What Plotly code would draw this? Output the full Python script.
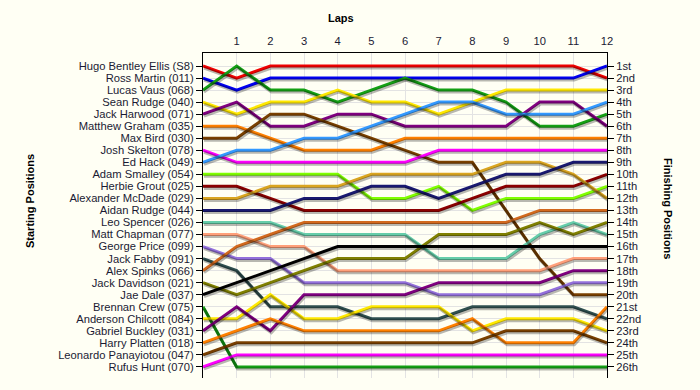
import plotly.graph_objects as go

laps = list(range(13))
lap_ticks = list(range(1, 13))

drivers = [
    "Hugo Bentley Ellis (S8)", "Ross Martin (011)", "Lucas Vaus (068)", "Sean Rudge (040)",
    "Jack Harwood (071)", "Matthew Graham (035)", "Max Bird (030)", "Josh Skelton (078)",
    "Ed Hack (049)", "Adam Smalley (054)", "Herbie Grout (025)", "Alexander McDade (029)",
    "Aidan Rudge (044)", "Leo Spencer (026)", "Matt Chapman (077)", "George Price (099)",
    "Jack Fabby (091)", "Alex Spinks (066)", "Jack Davidson (021)", "Jae Dale (037)",
    "Brennan Crew (075)", "Anderson Chilcott (084)", "Gabriel Buckley (031)",
    "Harry Platten (018)", "Leonardo Panayiotou (047)", "Rufus Hunt (070)",
]

finish_labels = [
    "1st", "2nd", "3rd", "4th", "5th", "6th", "7th", "8th", "9th", "10th", "11th", "12th",
    "13th", "14th", "15th", "16th", "17th", "18th", "19th", "20th", "21st", "22nd", "23rd",
    "24th", "25th", "26th",
]

# positions per lap (lap 0 .. lap 12)
hugo      = [1, 2, 1, 1, 1, 1, 1, 1, 1, 1, 1, 1, 2]
ross      = [2, 3, 2, 2, 2, 2, 2, 2, 2, 2, 2, 2, 1]
lucas     = [3, 1, 3, 3, 4, 3, 2, 3, 3, 4, 6, 6, 5]
sean      = [4, 5, 4, 4, 3, 4, 4, 5, 4, 3, 3, 3, 3]
harwood   = [5, 4, 6, 6, 5, 5, 6, 6, 6, 6, 4, 4, 6]
graham    = [6, 6, 7, 8, 8, 8, 7, 7, 7, 7, 7, 7, 7]
bird      = [7, 7, 5, 5, 6, 7, 8, 9, 9, 13, 17, 20, 20]
skelton   = [8, 9, 9, 9, 9, 9, 9, 8, 8, 8, 8, 8, 8]
hack      = [9, 8, 8, 7, 7, 6, 5, 4, 4, 5, 5, 5, 4]
smalley   = [10, 10, 10, 10, 10, 12, 12, 11, 13, 12, 12, 12, 11]
grout     = [11, 11, 12, 13, 13, 13, 13, 13, 12, 11, 11, 11, 10]
mcdade    = [12, 12, 11, 11, 11, 10, 10, 10, 10, 9, 9, 10, 12]
arudge    = [13, 13, 13, 12, 12, 11, 11, 12, 11, 10, 10, 9, 9]
spencer   = [14, 14, 14, 15, 15, 15, 15, 17, 17, 17, 15, 14, 15]
chapman   = [15, 15, 16, 16, 18, 18, 18, 18, 18, 18, 18, 17, 17]
price     = [16, 17, 17, 19, 19, 19, 19, 20, 20, 20, 20, 19, 19]
fabby     = [17, 18, 21, 21, 21, 22, 22, 22, 21, 21, 21, 21, 22]
spinks    = [18, 16, 15, 14, 14, 14, 14, 14, 14, 14, 13, 13, 13]
davidson  = [19, 20, 19, 18, 17, 17, 17, 15, 15, 15, 14, 15, 14]
dale      = [20, 19, 18, 17, 16, 16, 16, 16, 16, 16, 16, 16, 16]
crew      = [21, 26, 26, 26, 26, 26, 26, 26, 26, 26, 26, 26, 26]
chilcott  = [22, 22, 20, 22, 22, 21, 21, 21, 23, 22, 22, 22, 23]
buckley   = [23, 21, 23, 20, 20, 20, 20, 19, 19, 19, 19, 18, 18]
platten   = [24, 23, 22, 23, 23, 23, 23, 23, 22, 24, 24, 24, 21]
panayiotou = [25, 24, 24, 24, 24, 24, 24, 24, 24, 23, 23, 23, 24]
hunt      = [26, 25, 25, 25, 25, 25, 25, 25, 25, 25, 25, 25, 25]

series = [hugo, ross, lucas, sean, harwood, graham, bird, skelton, hack, smalley, grout,
          mcdade, arudge, spencer, chapman, price, fabby, spinks, davidson, dale, crew,
          chilcott, buckley, platten, panayiotou, hunt]

colors = [
    "#F00000", "#0000F0", "#14A014", "#FFE800", "#800080", "#FF8000", "#7A4000", "#FF00FF",
    "#3399FF", "#80FF00", "#8B0000", "#DAA520", "#191970", "#66CDAA", "#FFA07A", "#9370DB",
    "#2F4F4F", "#D2691E", "#808000", "#000000", "#14A014", "#FFE800", "#800080", "#FF8000",
    "#7A4000", "#FF00FF",
]

FONT = "Liberation Sans, Arial, sans-serif"
TXT = "#1a1a33"
BG = "#FFFFF4"

L, R, T, B = 203, 607, 53, 378
fig = go.Figure()

# drop shadows (drawn on slightly shifted overlay axes)
for ys in series:
    fig.add_trace(go.Scatter(x=laps, y=ys, mode="lines", xaxis="x2", yaxis="y3",
                             line=dict(color="rgba(0,0,0,0.28)", width=3),
                             hoverinfo="skip", showlegend=False))

for name, ys, c in zip(drivers, series, colors):
    fig.add_trace(go.Scatter(x=laps, y=ys, mode="lines", name=name,
                             line=dict(color=c, width=3), showlegend=False))

# invisible trace to anchor right axis
fig.add_trace(go.Scatter(x=[0], y=[1], mode="markers", yaxis="y2",
                         marker=dict(opacity=0), hoverinfo="skip", showlegend=False))

px_x = (R - L) / 12.0
px_y = 12.0
yr = [26.92, -0.08]

fig.update_layout(
    width=700, height=390,
    margin=dict(l=L, r=700 - R, t=T, b=390 - B, autoexpand=False),
    paper_bgcolor=BG, plot_bgcolor=BG,
    font=dict(family=FONT, size=11.2, color=TXT),
    xaxis=dict(side="top", range=[0, 12], tickvals=lap_ticks, showgrid=True,
               gridcolor="#E3E3E3", gridwidth=1, showline=True, linecolor="black",
               linewidth=1, ticks="", ticklabelstandoff=3, zeroline=False,
               automargin=False),
    xaxis2=dict(overlaying="x", range=[0 - 1 / px_x, 12 - 1 / px_x], visible=False,
                automargin=False),
    yaxis=dict(range=yr, tickvals=list(range(1, 27)), ticktext=drivers,
               showgrid=True, gridcolor="#E3E3E3", gridwidth=1, showline=True,
               linecolor="black", linewidth=1, ticks="outside", ticklen=6,
               tickcolor="black", zeroline=False, automargin=False),
    yaxis2=dict(overlaying="y", side="right", range=yr, tickvals=list(range(1, 27)),
                ticktext=finish_labels, showgrid=False, showline=True,
                linecolor="black", linewidth=1, ticks="outside", ticklen=6,
                tickcolor="black", zeroline=False, automargin=False),
    yaxis3=dict(overlaying="y", range=[yr[0] - 2 / px_y, yr[1] - 2 / px_y],
                visible=False, automargin=False),
)

W, H = float(R - L), float(B - T)


def ann(text, xpx, ypx, angle=0):
    fig.add_annotation(text=text, x=(xpx - L) / W, y=1 - (ypx - T) / H,
                       xref="paper", yref="paper", xanchor="center", yanchor="middle",
                       showarrow=False, textangle=angle,
                       font=dict(size=11, color="black", family=FONT))


ann("<b>Laps</b>", 341, 18)
ann("<b>Starting Positions</b>", 30, 201, -90)
ann("<b>Finishing Positions</b>", 668, 208, 90)

fig.write_html("out.html", config={"displayModeBar": False},
               post_script="document.body.style.margin='0';"
                           "document.body.style.overflow='hidden';"
                           "document.body.style.background='" + BG + "';")
